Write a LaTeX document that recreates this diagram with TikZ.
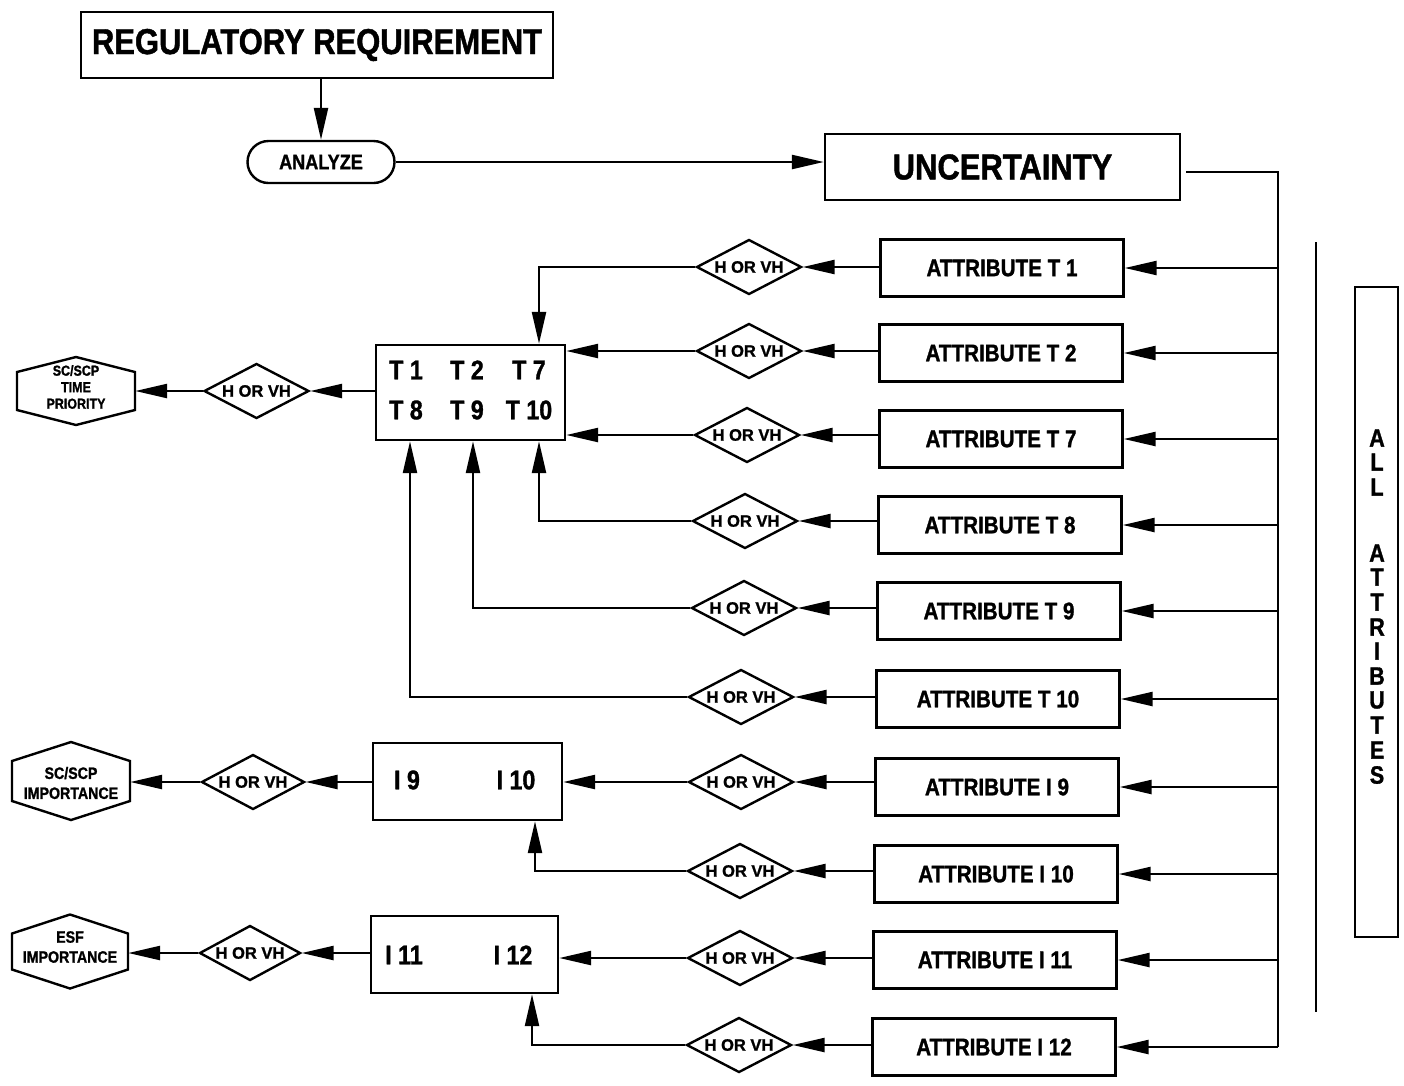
\documentclass[tikz,border=0pt]{standalone}
\usepackage{fontspec}
\setmainfont{Liberation Sans}[BoldFeatures={FakeBold=1.2}]
\newfontfamily\cf{Liberation Sans}[FakeStretch=0.86,BoldFeatures={FakeBold=1.2}]
\usetikzlibrary{arrows.meta,shapes.geometric,shapes.misc,calc}
\newcommand\fs[2]{\fontsize{#1}{#2}\selectfont}
\newcommand\hexdraw[4]{\draw[ln] ($(#1)+(0,-#3)$) -- ($(#1)+(#2,-#4)$) -- ($(#1)+(#2,#4)$) -- ($(#1)+(0,#3)$) -- ($(#1)+(-#2,#4)$) -- ($(#1)+(-#2,-#4)$) -- cycle;}
\begin{document}
\begin{tikzpicture}[x=1pt,y=-1pt,
  ln/.style={line width=2.4pt},
  arr/.style={line width=2.4pt,-{Triangle[length=32pt,width=14pt]}},
  box/.style={draw,line width=2.4pt,rectangle,inner sep=0pt},
  attr/.style={box,minimum width=243pt,minimum height=57pt,font=\cf\bfseries\fs{24}{28}},
  dia/.style={draw,diamond,aspect=1.9,line width=2.4pt,minimum width=105pt,minimum height=55pt,inner sep=0pt,font=\bfseries\fs{16.5}{18}},
  lbl/.style={inner sep=0pt,font=\cf\bfseries\fs{27}{30}},
  hexn/.style={inner sep=0pt,rectangle},
  hextxt/.style={inner sep=0pt,align=center,font=\cf\bfseries\fs{16.5}{20}},
  vlet/.style={inner sep=0pt,font=\cf\bfseries\fs{25}{26}}
]
\fill[white] (0,0) rectangle (1404,1085);
\useasboundingbox (0,0) rectangle (1404,1085);

% top
\node[box,minimum width=472pt,minimum height=66pt,font=\cf\bfseries\fs{36}{40}] (reg) at (317,45) {REGULATORY REQUIREMENT};
\node[draw,rounded rectangle,line width=2.4pt,minimum width=147pt,minimum height=42pt,inner sep=0pt,font=\cf\bfseries\fs{21}{24}] (ana) at (321,162) {ANALYZE};
\node[box,minimum width=355pt,minimum height=66pt,font=\cf\bfseries\fs{36}{40}] (unc) at (1002.5,167) {UNCERTAINTY};
\draw[arr] (reg.south -| ana.north) -- (ana.north);
\draw[arr] (ana.east) -- (ana.east -| unc.west);

% bus and side
\coordinate (bus) at (1278,0);
\coordinate (s1) at (1316,242);
\coordinate (s2) at (1316,1012);
\draw[ln] (s1) -- (s2);
\node[box,minimum width=43pt,minimum height=650pt] (all) at (1376.5,612) {};
\foreach \l/\yy [count=\i] in {A/438,L/462,L/487,A/553,T/577,T/602,R/627,I/651,B/676,U/700,T/725,E/750,S/775}
  \node[vlet] (al\i) at (1377,\yy) {\l};

% attribute boxes
\node[attr] (aT1) at (1002,268) {ATTRIBUTE T 1};
\node[attr] (aT2) at (1001,353) {ATTRIBUTE T 2};
\node[attr] (aT7) at (1001,439) {ATTRIBUTE T 7};
\node[attr] (aT8) at (1000,525) {ATTRIBUTE T 8};
\node[attr] (aT9) at (999,611) {ATTRIBUTE T 9};
\node[attr] (aT10) at (998,699) {ATTRIBUTE T 10};
\node[attr] (aI9) at (997,787) {ATTRIBUTE I 9};
\node[attr] (aI10) at (996,874) {ATTRIBUTE I 10};
\node[attr] (aI11) at (995,960) {ATTRIBUTE I 11};
\node[attr] (aI12) at (994,1047) {ATTRIBUTE I 12};

\draw[ln] ([xshift=5pt,yshift=-5pt]unc.east) -| (bus |- aI12.east);
\foreach \n in {T1,T2,T7,T8,T9,T10,I9,I10,I11,I12}
  \draw[arr] (a\n.east -| bus) -- (a\n.east);

% diamonds
\node[dia] (dT1) at (749,267) {H OR VH};
\node[dia] (dT2) at (749,351) {H OR VH};
\node[dia] (dT7) at (747,435) {H OR VH};
\node[dia] (dT8) at (745,521) {H OR VH};
\node[dia] (dT9) at (744,608) {H OR VH};
\node[dia] (dT10) at (741,697) {H OR VH};
\node[dia] (dI9) at (741,782) {H OR VH};
\node[dia] (dI10) at (740,871) {H OR VH};
\node[dia] (dI11) at (740,958) {H OR VH};
\node[dia] (dI12) at (739,1045) {H OR VH};
\foreach \n in {T1,T2,T7,T8,T9,T10,I9,I10,I11,I12}
  \draw[arr] (d\n.east -| a\n.west) -- (d\n.east);

% T box
\node[box,minimum width=189pt,minimum height=95pt] (Tb) at (470.5,392.5) {};
\node[lbl] (t1) at (406,370) {T 1};
\node[lbl] (t2) at (467,370) {T 2};
\node[lbl] (t7) at (529,370) {T 7};
\node[lbl] (t8) at (406,410) {T 8};
\node[lbl] (t9) at (467,410) {T 9};
\node[lbl] (t10) at (529,410) {T 10};
\coordinate (xa) at (539,0);
\coordinate (xb) at (473,0);
\coordinate (xc) at (410,0);
\draw[arr] (dT1.west) -| (xa |- Tb.north);
\draw[arr] (dT2.west) -- (dT2.west -| Tb.east);
\draw[arr] (dT7.west) -- (dT7.west -| Tb.east);
\draw[arr] (dT8.west) -| (xa |- Tb.south);
\draw[arr] (dT9.west) -| (xb |- Tb.south);
\draw[arr] (dT10.west) -| (xc |- Tb.south);

% I boxes
\node[box,minimum width=189pt,minimum height=77pt] (Ib1) at (467.5,781.5) {};
\node[lbl] (i9) at (407,780) {I 9};
\node[lbl] (i10) at (516,780) {I 10};
\node[box,minimum width=187pt,minimum height=77pt] (Ib2) at (464.5,954.5) {};
\node[lbl] (i11) at (404,955) {I 11};
\node[lbl] (i12) at (513,955) {I 12};
\coordinate (xd) at (535,0);
\coordinate (xe) at (532,0);
\draw[arr] (dI9.west) -- (dI9.west -| Ib1.east);
\draw[arr] (dI10.west) -| (xd |- Ib1.south);
\draw[arr] (dI11.west) -- (dI11.west -| Ib2.east);
\draw[arr] (dI12.west) -| (xe |- Ib2.south);

% left diamonds
\node[dia] (lT) at (256.5,391) {H OR VH};
\node[dia,minimum width=103pt] (lI9) at (253,782) {H OR VH};
\node[dia,minimum width=101pt] (lI11) at (250,953) {H OR VH};
\draw[arr] (lT.east -| Tb.west) -- (lT.east);
\draw[arr] (lI9.east -| Ib1.west) -- (lI9.east);
\draw[arr] (lI11.east -| Ib2.west) -- (lI11.east);

% hexagons
\node[hexn,minimum width=118pt,minimum height=38pt] (hT) at (76,391) {};
\node[hexn,minimum width=118pt,minimum height=40pt] (hI9) at (71,781) {};
\node[hexn,minimum width=116pt,minimum height=36pt] (hI11) at (70,951.5) {};
\hexdraw{hT}{59}{34}{19}
\hexdraw{hI9}{59}{39}{20}
\hexdraw{hI11}{58}{37}{18}
\node[inner sep=0pt,align=center,font=\cf\bfseries\fs{14.5}{16.5}] (hTt) at (76,387) {SC/SCP\\TIME\\PRIORITY};
\node[hextxt] (hI9t) at (71,783) {SC/SCP\\IMPORTANCE};
\node[hextxt] (hI11t) at (70,947) {ESF\\IMPORTANCE};
\draw[arr] (lT.west) -- (lT.west -| hT.east);
\draw[arr] (lI9.west) -- (lI9.west -| hI9.east);
\draw[arr] (lI11.west) -- (lI11.west -| hI11.east);
\end{tikzpicture}
\end{document}
